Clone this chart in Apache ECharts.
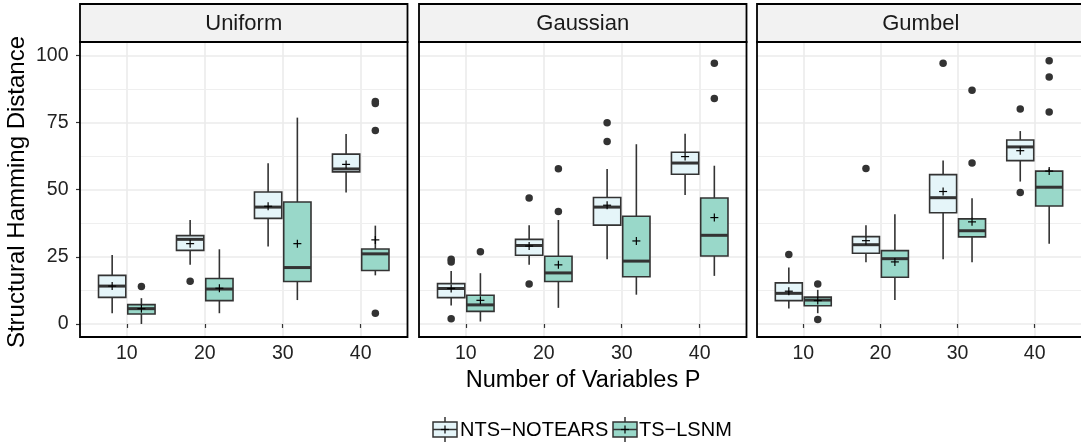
<!DOCTYPE html>
<html>
<head>
<meta charset="utf-8">
<script src="https://cdn.jsdelivr.net/npm/echarts@6/dist/echarts.min.js"></script>
<style>
  html, body { margin: 0; padding: 0; background: #ffffff; }
  #chart { width: 1081px; height: 446px; }
</style>
</head>
<body>
<div id="chart"></div>
<script>
// ---- data -------------------------------------------------------------
const pLabels = ['10', '20', '30', '40'];
const panelNames = ['Uniform', 'Gaussian', 'Gumbel'];
const methodNames = ['NTS\u2212NOTEARS', 'TS\u2212LSNM'];
const yTicks = [0, 25, 50, 75, 100];
const yMinorLines = [12.5, 37.5, 62.5, 87.5];

// one row per P: [lower whisker, Q1, median, Q3, upper whisker, mean]
const uniformNts = [
  [4.0, 9.9, 14.1, 18.1, 25.7, 14.1],
  [22.0, 27.4, 31.5, 32.9, 38.7, 29.9],
  [28.8, 39.3, 43.5, 49.1, 59.8, 43.8],
  [48.9, 56.6, 57.7, 63.2, 70.7, 59.4]
];
const uniformTs = [
  [0.0, 3.7, 5.7, 7.2, 9.6, 5.7],
  [4.0, 8.7, 13.0, 16.9, 27.8, 13.3],
  [8.9, 15.8, 21.0, 45.4, 76.8, 29.9],
  [18.1, 19.9, 26.1, 27.9, 36.6, 31.3]
];
const uniformNtsOutliers = [[], [15.9], [], []];
const uniformTsOutliers = [[13.9], [], [], [82.8, 82.1, 72.0, 4.0]];

const gaussianNts = [
  [6.9, 9.8, 13.2, 15.0, 19.7, 13.2],
  [22.0, 25.6, 29.2, 31.5, 36.7, 29.0],
  [24.1, 36.8, 43.5, 47.1, 57.7, 44.2],
  [48.0, 55.7, 59.9, 63.9, 70.8, 62.3]
];
const gaussianTs = [
  [0.9, 4.7, 7.1, 10.7, 18.9, 8.8],
  [6.0, 15.8, 19.0, 25.2, 38.7, 22.0],
  [10.9, 17.6, 23.4, 40.1, 66.9, 30.9],
  [17.9, 25.3, 33.0, 46.9, 58.9, 39.6]
];
const gaussianNtsOutliers = [[24.1, 23.1, 1.9], [46.9, 14.9], [74.9, 67.9], []];
const gaussianTsOutliers = [[26.9], [57.8, 41.9], [], [97.0, 83.9]];

const gumbelNts = [
  [5.8, 8.7, 11.4, 15.3, 21.0, 12.2],
  [23.0, 26.3, 29.5, 32.5, 36.7, 31.0],
  [24.1, 41.4, 47.0, 55.6, 60.8, 49.3],
  [53.0, 60.8, 65.9, 68.5, 71.8, 64.5]
];
const gumbelTs = [
  [4.0, 6.8, 8.9, 10.0, 12.7, 8.7],
  [8.9, 17.4, 24.3, 27.3, 40.8, 23.1],
  [23.0, 32.4, 34.7, 39.1, 46.8, 38.0],
  [29.9, 43.9, 50.9, 56.9, 57.8, 56.9]
];
const gumbelNtsOutliers = [[25.9], [57.9], [97.0], [80.0, 48.9]];
const gumbelTsOutliers = [[14.9, 1.7], [], [87.0, 59.9], [98.0, 91.9, 78.9]];

// ---- layout & style ---------------------------------------------------
const FONT = '"Liberation Sans", Arial, Helvetica, sans-serif';
const fills = ['#e5f5f9', '#99d8c9'];
const ink = '#333333';
const gridLeft = [80, 419, 757];
const gridW = 327.5;
const gridTop = 42;
const gridH = 295;
const stripTop = 4;
const dodge = [-0.1875, 0.1875];
const boxWidth = 0.35;

const panelStats = [
  [uniformNts, uniformTs],
  [gaussianNts, gaussianTs],
  [gumbelNts, gumbelTs]
];
const panelOutliers = [
  [uniformNtsOutliers, uniformTsOutliers],
  [gaussianNtsOutliers, gaussianTsOutliers],
  [gumbelNtsOutliers, gumbelTsOutliers]
];

function boxRenderer(offset) {
  return function (params, api) {
    const x = api.value(0) + offset;
    const pLo = api.coord([x, api.value(1)]);
    const xc = pLo[0];
    const yLo = pLo[1];
    const yQ1 = api.coord([x, api.value(2)])[1];
    const yMed = api.coord([x, api.value(3)])[1];
    const yQ3 = api.coord([x, api.value(4)])[1];
    const yHi = api.coord([x, api.value(5)])[1];
    const yMean = api.coord([x, api.value(6)])[1];
    const half = api.size([boxWidth, 0])[0] / 2;
    const plus = 4;
    return {
      type: 'group',
      children: [
        { type: 'line', shape: { x1: xc, y1: yHi, x2: xc, y2: yQ3 }, style: { stroke: ink, lineWidth: 1.6 } },
        { type: 'line', shape: { x1: xc, y1: yQ1, x2: xc, y2: yLo }, style: { stroke: ink, lineWidth: 1.6 } },
        { type: 'rect', shape: { x: xc - half, y: yQ3, width: half * 2, height: yQ1 - yQ3 },
          style: { fill: api.visual('color'), stroke: ink, lineWidth: 1.6 } },
        { type: 'line', shape: { x1: xc - half, y1: yMed, x2: xc + half, y2: yMed }, style: { stroke: ink, lineWidth: 3 } },
        { type: 'line', shape: { x1: xc - plus, y1: yMean, x2: xc + plus, y2: yMean }, style: { stroke: '#000', lineWidth: 1.2 } },
        { type: 'line', shape: { x1: xc, y1: yMean - plus, x2: xc, y2: yMean + plus }, style: { stroke: '#000', lineWidth: 1.2 } }
      ]
    };
  };
}

const grids = [], xAxes = [], yAxes = [], series = [], graphics = [];

panelNames.forEach(function (name, pi) {
  grids.push({ left: gridLeft[pi], top: gridTop, width: gridW, height: gridH, containLabel: false });

  xAxes.push({
    type: 'value', gridIndex: pi, min: 0.4, max: 4.6,
    axisLine: { show: false },
    axisTick: { show: true, length: 4, customValues: [1, 2, 3, 4], lineStyle: { color: ink, width: 1.2 } },
    axisLabel: {
      show: true, customValues: [1, 2, 3, 4], margin: 7,
      formatter: function (v) { return pLabels[Math.round(v) - 1]; },
      color: '#222', fontSize: 19.5, fontFamily: FONT
    },
    splitLine: { show: true, lineStyle: { color: '#ebebeb', width: 1.6 } }
  });

  yAxes.push({
    type: 'value', gridIndex: pi, min: -4.85, max: 104.95,
    axisLine: { show: false },
    axisTick: { show: pi === 0, length: 4, customValues: yTicks, lineStyle: { color: ink, width: 1.2 } },
    axisLabel: {
      show: pi === 0, customValues: yTicks, margin: 11.5,
      color: '#222', fontSize: 19.5, fontFamily: FONT
    },
    splitLine: { show: true, lineStyle: { color: '#ebebeb', width: 1.6 } }
  });

  methodNames.forEach(function (m, mi) {
    const stats = panelStats[pi][mi];
    series.push({
      type: 'custom', name: m, xAxisIndex: pi, yAxisIndex: pi, z: 3,
      itemStyle: { color: fills[mi] },
      renderItem: boxRenderer(dodge[mi]),
      data: stats.map(function (row, ci) { return [ci + 1].concat(row); }),
      silent: true,
      markLine: mi === 0 ? {
        silent: true, symbol: 'none', z: 1, label: { show: false },
        lineStyle: { color: '#efefef', width: 1, type: 'solid' },
        data: yMinorLines.map(function (v) { return { yAxis: v }; })
      } : undefined
    });

    const pts = [];
    panelOutliers[pi][mi].forEach(function (vals, ci) {
      vals.forEach(function (v) { pts.push([ci + 1 + dodge[mi], v]); });
    });
    series.push({
      type: 'scatter', xAxisIndex: pi, yAxisIndex: pi, z: 4, silent: true,
      symbol: 'circle', symbolSize: 7.5,
      itemStyle: { color: ink, opacity: 1 },
      data: pts
    });
  });

  // facet strip
  graphics.push({
    type: 'rect', silent: true, z: 50,
    shape: { x: gridLeft[pi], y: stripTop, width: gridW, height: gridTop - stripTop },
    style: { fill: '#f2f2f2', stroke: '#000', lineWidth: 1.8 }
  });
  graphics.push({
    type: 'text', silent: true, z: 51,
    x: gridLeft[pi] + gridW / 2, y: (stripTop + gridTop) / 2 + 1,
    style: { text: name, font: '22px ' + FONT, fill: '#1a1a1a', align: 'center', verticalAlign: 'middle' }
  });
  // panel border
  graphics.push({
    type: 'rect', silent: true, z: 50,
    shape: { x: gridLeft[pi], y: gridTop, width: gridW, height: gridH },
    style: { fill: 'transparent', stroke: '#000', lineWidth: 1.8 }
  });
});

// axis titles
graphics.push({
  type: 'text', silent: true, x: 583, y: 381,
  style: { text: 'Number of Variables P', font: '23.5px ' + FONT, fill: '#000', align: 'center', verticalAlign: 'middle' }
});
graphics.push({
  type: 'text', silent: true, x: 17, y: 192, rotation: Math.PI / 2,
  style: { text: 'Structural Hamming Distance', font: '24px ' + FONT, fill: '#000', align: 'center', verticalAlign: 'middle' }
});

// legend keys
const legendKeyX = [433, 613];
const legendTextX = [460, 639];
methodNames.forEach(function (m, mi) {
  const x0 = legendKeyX[mi];
  const w = 24, top = 422, bottom = 437, mid = (top + bottom) / 2, cx = x0 + w / 2;
  graphics.push({
    type: 'group', silent: true,
    children: [
      { type: 'line', shape: { x1: cx, y1: 417, x2: cx, y2: top }, style: { stroke: ink, lineWidth: 1.5 } },
      { type: 'line', shape: { x1: cx, y1: bottom, x2: cx, y2: 442 }, style: { stroke: ink, lineWidth: 1.5 } },
      { type: 'rect', shape: { x: x0, y: top, width: w, height: bottom - top }, style: { fill: fills[mi], stroke: ink, lineWidth: 1.5 } },
      { type: 'line', shape: { x1: x0, y1: mid, x2: x0 + w, y2: mid }, style: { stroke: ink, lineWidth: 1.5 } },
      { type: 'line', shape: { x1: cx - 4, y1: mid, x2: cx + 4, y2: mid }, style: { stroke: '#000', lineWidth: 1.2 } },
      { type: 'line', shape: { x1: cx, y1: mid - 4, x2: cx, y2: mid + 4 }, style: { stroke: '#000', lineWidth: 1.2 } },
      { type: 'text', x: legendTextX[mi], y: mid + 0.5,
        style: { text: m, font: '20px ' + FONT, fill: '#000', align: 'left', verticalAlign: 'middle' } }
    ]
  });
});

const chart = echarts.init(document.getElementById('chart'), null, { renderer: 'canvas' });
chart.setOption({
  animation: false,
  backgroundColor: '#ffffff',
  grid: grids,
  xAxis: xAxes,
  yAxis: yAxes,
  series: series,
  graphic: graphics
});
</script>
</body>
</html>
